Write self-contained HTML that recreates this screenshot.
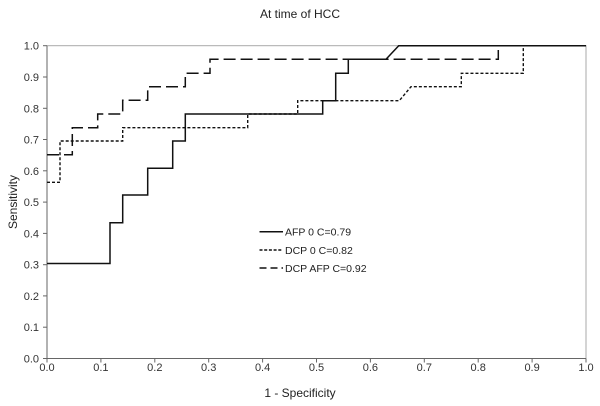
<!DOCTYPE html>
<html><head><meta charset="utf-8"><style>
html,body{margin:0;padding:0;background:#fff;}
svg{display:block;font-family:"Liberation Sans",Arial,sans-serif;}
</style></head><body>
<svg width="600" height="406" viewBox="0 0 600 406" xmlns="http://www.w3.org/2000/svg">
<text x="300" y="18" font-size="12" text-anchor="middle" fill="#222">At time of HCC</text>
<rect x="47" y="45.7" width="539" height="312.8" fill="none" stroke="#aaa" stroke-width="1"/>
<line x1="47" y1="45.7" x2="47" y2="358.5" stroke="#666"/>
<line x1="47" y1="358.5" x2="586" y2="358.5" stroke="#666"/>
<g stroke="#666">
<line x1="43" y1="358.5" x2="47" y2="358.5"/><line x1="43" y1="327.2" x2="47" y2="327.2"/><line x1="43" y1="295.9" x2="47" y2="295.9"/><line x1="43" y1="264.7" x2="47" y2="264.7"/><line x1="43" y1="233.4" x2="47" y2="233.4"/><line x1="43" y1="202.1" x2="47" y2="202.1"/><line x1="43" y1="170.8" x2="47" y2="170.8"/><line x1="43" y1="139.5" x2="47" y2="139.5"/><line x1="43" y1="108.3" x2="47" y2="108.3"/><line x1="43" y1="77" x2="47" y2="77"/><line x1="43" y1="45.7" x2="47" y2="45.7"/>
<line x1="47" y1="358.5" x2="47" y2="362.5"/><line x1="100.9" y1="358.5" x2="100.9" y2="362.5"/><line x1="154.8" y1="358.5" x2="154.8" y2="362.5"/><line x1="208.7" y1="358.5" x2="208.7" y2="362.5"/><line x1="262.6" y1="358.5" x2="262.6" y2="362.5"/><line x1="316.5" y1="358.5" x2="316.5" y2="362.5"/><line x1="370.4" y1="358.5" x2="370.4" y2="362.5"/><line x1="424.3" y1="358.5" x2="424.3" y2="362.5"/><line x1="478.2" y1="358.5" x2="478.2" y2="362.5"/><line x1="532.1" y1="358.5" x2="532.1" y2="362.5"/><line x1="586" y1="358.5" x2="586" y2="362.5"/>
</g>
<g font-size="11" fill="#333" text-anchor="end">
<text x="39" y="362.5">0.0</text><text x="39" y="331.2">0.1</text><text x="39" y="299.9">0.2</text><text x="39" y="268.7">0.3</text><text x="39" y="237.4">0.4</text><text x="39" y="206.1">0.5</text><text x="39" y="174.8">0.6</text><text x="39" y="143.5">0.7</text><text x="39" y="112.3">0.8</text><text x="39" y="81">0.9</text><text x="39" y="49.7">1.0</text>
</g>
<g font-size="11" fill="#333" text-anchor="middle">
<text x="47" y="371">0.0</text><text x="100.9" y="371">0.1</text><text x="154.8" y="371">0.2</text><text x="208.7" y="371">0.3</text><text x="262.6" y="371">0.4</text><text x="316.5" y="371">0.5</text><text x="370.4" y="371">0.6</text><text x="424.3" y="371">0.7</text><text x="478.2" y="371">0.8</text><text x="532.1" y="371">0.9</text><text x="586" y="371">1.0</text>
</g>
<text x="300" y="397" font-size="12" text-anchor="middle" fill="#222">1 - Specificity</text>
<text transform="translate(17,202) rotate(-90)" font-size="12" text-anchor="middle" fill="#222">Sensitivity</text>
<polyline fill="none" stroke="#111" stroke-width="1.5" points="47,263.5 110,263.5 110,222.7 122.7,222.7 122.7,195 147.7,195 147.7,168.3 172.7,168.3 172.7,141 185.3,141 185.3,114 322.7,114 322.7,100.7 335.7,100.7 335.7,73.3 348.3,73.3 348.3,59.3 386,59.3 398.7,45.7 586,45.7"/>
<polyline fill="none" stroke="#111" stroke-width="1.4" stroke-dasharray="3,2" points="47,182.3 60,182.3 60,141 122.7,141 122.7,127.7 247.7,127.7 247.7,114 297.7,114 297.7,100.7 399.3,100.7 411,86.7 461.3,86.7 461.3,73.3 523.3,73.3 523.3,45.7"/>
<polyline fill="none" stroke="#111" stroke-width="1.5" stroke-dasharray="12,5" points="47,154.7 72.3,154.7 72.3,127.7 97.7,127.7 97.7,114 122.7,114 122.7,100.3 147.7,100.3 147.7,86.7 185.3,86.7 185.3,73.3 210,73.3 210,59.3 498.3,59.3 498.3,45.7"/>
<line x1="259.5" y1="231.7" x2="283" y2="231.7" stroke="#111" stroke-width="1.5"/>
<line x1="259.5" y1="250" x2="283" y2="250" stroke="#111" stroke-width="1.4" stroke-dasharray="3,1.7"/>
<line x1="259.5" y1="268" x2="283" y2="268" stroke="#111" stroke-width="1.5" stroke-dasharray="7,4"/>
<g font-size="10.5" fill="#222">
<text x="285" y="235.5">AFP 0 C=0.79</text>
<text x="285" y="254">DCP 0 C=0.82</text>
<text x="285" y="272">DCP AFP C=0.92</text>
</g>
</svg>
</body></html>
